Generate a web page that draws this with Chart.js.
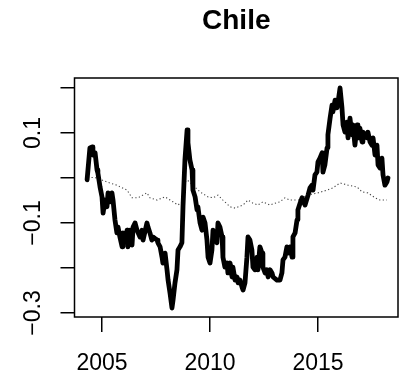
<!DOCTYPE html>
<html>
<head>
<meta charset="utf-8">
<script src="https://cdn.jsdelivr.net/npm/chart.js@4/dist/chart.umd.min.js"></script>
<style>
html,body{margin:0;padding:0;background:#fff;}
#wrap{width:408px;height:375px;position:relative;}
</style>
</head>
<body>
<div id="wrap"><canvas id="c" width="408" height="375"></canvas></div>
<script>
const titleText = "Chile";
const xTicks = [2005, 2010, 2015];
const yTicks = [-0.3, -0.2, -0.1, 0, 0.1, 0.2];
const yTickLabels = {"-3": "\u22120.3", "-1": "\u22120.1", "1": "0.1"};

const solidYears = [2004.31,2004.44,2004.54,2004.58,2004.68,2004.77,2004.81,2004.91,2005.00,2005.05,2005.14,2005.23,2005.28,2005.37,2005.46,2005.51,2005.60,2005.69,2005.74,2005.83,2005.93,2005.97,2006.06,2006.16,2006.20,2006.30,2006.39,2006.44,2006.53,2006.62,2006.76,2006.85,2006.90,2007.08,2007.13,2007.22,2007.31,2007.36,2007.55,2007.59,2007.69,2007.78,2007.82,2007.92,2008.01,2008.06,2008.15,2008.24,2008.29,2008.38,2008.47,2008.52,2008.61,2008.70,2008.75,2008.84,2008.94,2008.98,2009.07,2009.17,2009.21,2009.31,2009.40,2009.44,2009.54,2009.63,2009.68,2009.77,2009.86,2009.91,2010.00,2010.09,2010.14,2010.23,2010.32,2010.37,2010.46,2010.56,2010.60,2010.69,2010.79,2010.83,2010.93,2011.02,2011.06,2011.16,2011.25,2011.30,2011.39,2011.48,2011.53,2011.62,2011.71,2011.76,2011.85,2011.94,2011.99,2012.08,2012.18,2012.22,2012.31,2012.41,2012.45,2012.55,2012.64,2012.69,2012.78,2012.87,2012.92,2013.10,2013.24,2013.33,2013.38,2013.47,2013.56,2013.61,2013.70,2013.80,2013.84,2013.94,2014.03,2014.07,2014.17,2014.26,2014.40,2014.54,2014.63,2014.72,2014.77,2014.86,2014.95,2015.00,2015.09,2015.19,2015.23,2015.32,2015.42,2015.46,2015.56,2015.65,2015.69,2015.79,2015.88,2015.93,2016.02,2016.11,2016.16,2016.25,2016.34,2016.39,2016.48,2016.57,2016.62,2016.71,2016.81,2016.85,2016.94,2017.04,2017.08,2017.18,2017.27,2017.31,2017.41,2017.50,2017.55,2017.64,2017.73,2017.78,2017.87,2017.96,2018.01,2018.10,2018.19,2018.24];
const solidValues = [-0.004,0.067,0.069,0.051,0.056,0.018,0.011,-0.020,-0.042,-0.078,-0.049,-0.064,-0.033,-0.053,-0.033,-0.049,-0.093,-0.122,-0.109,-0.131,-0.153,-0.122,-0.138,-0.116,-0.153,-0.116,-0.149,-0.109,-0.100,-0.116,-0.131,-0.116,-0.138,-0.100,-0.109,-0.122,-0.138,-0.131,-0.138,-0.144,-0.153,-0.176,-0.189,-0.167,-0.204,-0.227,-0.256,-0.289,-0.271,-0.233,-0.204,-0.160,-0.153,-0.144,-0.064,0.040,0.107,0.078,0.040,0.018,-0.027,-0.042,-0.071,-0.064,-0.100,-0.116,-0.087,-0.100,-0.138,-0.176,-0.189,-0.160,-0.116,-0.131,-0.144,-0.100,-0.109,-0.131,-0.176,-0.198,-0.189,-0.211,-0.189,-0.220,-0.198,-0.227,-0.220,-0.233,-0.227,-0.242,-0.249,-0.233,-0.176,-0.131,-0.138,-0.160,-0.198,-0.204,-0.176,-0.204,-0.153,-0.167,-0.198,-0.211,-0.204,-0.220,-0.204,-0.211,-0.220,-0.227,-0.227,-0.211,-0.182,-0.176,-0.153,-0.167,-0.153,-0.176,-0.131,-0.122,-0.093,-0.071,-0.056,-0.044,-0.060,-0.038,-0.022,-0.016,-0.027,0.007,0.013,0.036,0.044,0.056,0.013,0.029,0.067,0.096,0.133,0.162,0.147,0.173,0.156,0.169,0.200,0.156,0.118,0.102,0.124,0.089,0.133,0.096,0.118,0.073,0.118,0.089,0.111,0.080,0.102,0.096,0.089,0.102,0.080,0.073,0.089,0.051,0.073,0.029,0.022,0.044,0.007,-0.016,-0.009,0.000];

const dottedYears = [2004.35,2004.77,2005.23,2005.69,2006.16,2006.39,2006.67,2007.08,2007.22,2007.55,2007.92,2008.15,2008.52,2008.70,2008.84,2008.94,2009.21,2009.54,2009.91,2010.14,2010.37,2010.60,2010.93,2011.16,2011.53,2011.76,2011.99,2012.22,2012.45,2012.78,2013.01,2013.24,2013.47,2013.70,2013.94,2014.17,2014.49,2015.00,2015.42,2015.69,2016.02,2016.39,2016.81,2017.04,2017.31,2017.64,2017.87,2018.19];
const dottedValues = [0.002,0.000,-0.009,-0.016,-0.027,-0.044,-0.044,-0.033,-0.044,-0.049,-0.042,-0.049,-0.060,-0.053,-0.009,-0.004,-0.016,-0.031,-0.042,-0.044,-0.038,-0.049,-0.064,-0.067,-0.060,-0.049,-0.056,-0.060,-0.053,-0.060,-0.056,-0.053,-0.044,-0.049,-0.049,-0.049,-0.038,-0.033,-0.027,-0.022,-0.011,-0.016,-0.020,-0.031,-0.033,-0.044,-0.049,-0.049];

const FONT = "'Liberation Sans', Arial, Helvetica, sans-serif";

const boxPlugin = {
  id: 'box',
  afterDraw(chart) {
    const a = chart.chartArea, ctx = chart.ctx;
    ctx.save();
    ctx.strokeStyle = '#000';
    ctx.lineWidth = 1.5;
    ctx.strokeRect(a.left, a.top, a.right - a.left, a.bottom - a.top);
    ctx.restore();
  }
};

new Chart(document.getElementById('c'), {
  type: 'line',
  data: {
    datasets: [
      {
        data: solidYears.map((x, i) => ({x: x, y: solidValues[i]})),
        borderColor: '#000',
        borderWidth: 4.8,
        pointRadius: 0,
        tension: 0,
        borderJoinStyle: 'round',
        borderCapStyle: 'round',
        fill: false,
        order: 1
      },
      {
        data: dottedYears.map((x, i) => ({x: x, y: dottedValues[i]})),
        borderColor: '#444',
        borderWidth: 1.1,
        borderDash: [1.2, 2.4],
        pointRadius: 0,
        tension: 0,
        fill: false,
        order: 2
      }
    ]
  },
  options: {
    responsive: false,
    animation: false,
    events: [],
    layout: {padding: {left: 0, right: 10, top: 0, bottom: 0}},
    plugins: {
      legend: {display: false},
      tooltip: {enabled: false},
      title: {
        display: true,
        fullSize: false,
        text: titleText,
        color: '#000',
        font: {family: FONT, size: 28, weight: 'bold'},
        padding: {top: 4, bottom: 40.4}
      }
    },
    scales: {
      x: {
        type: 'linear',
        min: 2003.727,
        max: 2018.704,
        afterBuildTicks: s => { s.ticks = xTicks.map(v => ({value: v})); },
        afterFit: s => { s.height = 58; },
        grid: {display: true, drawOnChartArea: false, drawTicks: true, tickLength: 15, color: '#000', lineWidth: 1.5},
        border: {display: false},
        ticks: {
          color: '#000',
          font: {family: FONT, size: 23},
          padding: 18,
          maxRotation: 0,
          autoSkip: false,
          callback: v => String(v)
        }
      },
      y: {
        type: 'linear',
        min: -0.3089,
        max: 0.2222,
        afterBuildTicks: s => { s.ticks = yTicks.map(v => ({value: v})); },
        afterFit: s => { s.width = 74.5; },
        grid: {display: true, drawOnChartArea: false, drawTicks: true, tickLength: 14, color: '#000', lineWidth: 1.5},
        border: {display: false},
        ticks: {
          color: '#000',
          font: {family: FONT, size: 23},
          minRotation: 90,
          maxRotation: 90,
          crossAlign: 'center',
          padding: 4,
          autoSkip: false,
          callback: v => yTickLabels[String(Math.round(v * 10))] || ''
        }
      }
    }
  },
  plugins: [boxPlugin]
});
</script>
</body>
</html>
